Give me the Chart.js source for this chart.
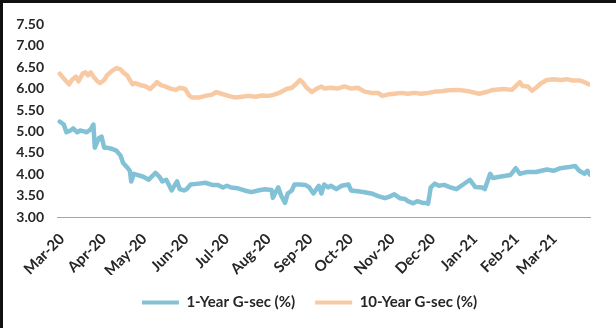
<!DOCTYPE html>
<html>
<head>
<meta charset="utf-8">
<script src="https://cdn.jsdelivr.net/npm/chart.js@4.4.1/dist/chart.umd.min.js"></script>
<style>
  html, body { margin: 0; padding: 0; background: #fff; }
  #frame {
    position: absolute; left: 0; top: 0;
    width: 616px; height: 328px;
    box-sizing: border-box;
    border-top: 3px solid #111;
    border-left: 3px solid #111;
    background: #fff;
  }
  #c { display: block; width: 613px; height: 325px; }
</style>
</head>
<body>
<div id="frame"><canvas id="c" width="613" height="325"></canvas></div>
<script>
// Month ticks on the date axis
const monthStarts = ['2020-03-01','2020-04-01','2020-05-01','2020-06-01','2020-07-01','2020-08-01',
  '2020-09-01','2020-10-01','2020-11-01','2020-12-01','2021-01-01','2021-02-01','2021-03-01'];
const monthLabels = ['Mar-20','Apr-20','May-20','Jun-20','Jul-20','Aug-20','Sep-20','Oct-20',
  'Nov-20','Dec-20','Jan-21','Feb-21','Mar-21'];

// 1-Year G-sec yield (%)
const oneYearDates = ['2020-03-03','2020-03-06','2020-03-08','2020-03-11','2020-03-13','2020-03-16',
  '2020-03-18','2020-03-21','2020-03-23','2020-03-26','2020-03-28','2020-03-29','2020-04-01','2020-04-03',
  '2020-04-05','2020-04-07','2020-04-11','2020-04-14','2020-04-17','2020-04-19','2020-04-22','2020-04-24',
  '2020-04-25','2020-04-27','2020-04-30','2020-05-04','2020-05-08','2020-05-10','2020-05-13','2020-05-16',
  '2020-05-18','2020-05-21','2020-05-25','2020-05-27','2020-05-29','2020-05-31','2020-06-03','2020-06-05',
  '2020-06-08','2020-06-14','2020-06-19','2020-06-24','2020-06-28','2020-07-02','2020-07-05','2020-07-08',
  '2020-07-13','2020-07-18','2020-07-23','2020-07-28','2020-08-02','2020-08-07','2020-08-08','2020-08-10',
  '2020-08-12','2020-08-14','2020-08-17','2020-08-19','2020-08-22','2020-08-24','2020-08-28','2020-09-01',
  '2020-09-04','2020-09-07','2020-09-11','2020-09-13','2020-09-15','2020-09-18','2020-09-20','2020-09-24',
  '2020-09-28','2020-10-03','2020-10-05','2020-10-10','2020-10-15','2020-10-20','2020-10-25','2020-10-30',
  '2020-11-02','2020-11-06','2020-11-10','2020-11-14','2020-11-16','2020-11-20','2020-11-23','2020-11-27',
  '2020-11-30','2020-12-01','2020-12-03','2020-12-06','2020-12-09','2020-12-13','2020-12-17','2020-12-22',
  '2020-12-27','2021-01-01','2021-01-05','2021-01-10','2021-01-12','2021-01-16','2021-01-18','2021-01-23',
  '2021-01-31','2021-02-04','2021-02-07','2021-02-12','2021-02-19','2021-02-27','2021-03-04','2021-03-09',
  '2021-03-14','2021-03-20','2021-03-23','2021-03-27','2021-03-29','2021-03-31'];
const oneYearYield = [5.23,5.16,4.98,5.02,5.07,4.98,
  5.02,5.00,4.98,5.05,5.16,4.62,4.84,4.88,
  4.62,4.62,4.59,4.55,4.44,4.26,4.16,4.08,
  3.83,4.01,3.98,3.94,3.87,3.94,4.03,3.94,
  3.83,3.87,3.62,3.73,3.83,3.65,3.62,3.65,
  3.76,3.78,3.80,3.75,3.75,3.69,3.73,3.69,
  3.67,3.62,3.58,3.62,3.65,3.63,3.45,3.58,
  3.69,3.51,3.33,3.55,3.62,3.76,3.76,3.75,
  3.69,3.55,3.73,3.55,3.76,3.69,3.73,3.65,
  3.73,3.76,3.62,3.60,3.58,3.55,3.49,3.44,
  3.47,3.53,3.44,3.42,3.37,3.32,3.37,3.33,
  3.33,3.31,3.69,3.78,3.73,3.75,3.70,3.65,
  3.76,3.87,3.70,3.69,3.65,4.01,3.91,3.94,
  3.98,4.14,4.01,4.05,4.05,4.11,4.08,4.14,
  4.16,4.19,4.08,4.01,4.08,3.99];

// 10-Year G-sec yield (%)
const tenYearDates = ['2020-03-03','2020-03-07','2020-03-10','2020-03-12','2020-03-15','2020-03-17',
  '2020-03-20','2020-03-22','2020-03-24','2020-03-26','2020-03-28','2020-03-31','2020-04-02','2020-04-05',
  '2020-04-07','2020-04-11','2020-04-14','2020-04-17','2020-04-19','2020-04-22','2020-04-24','2020-04-26',
  '2020-04-28','2020-05-02','2020-05-05','2020-05-09','2020-05-12','2020-05-14','2020-05-17','2020-05-20',
  '2020-05-24','2020-05-28','2020-05-31','2020-06-04','2020-06-07','2020-06-09','2020-06-14','2020-06-19',
  '2020-06-24','2020-06-27','2020-07-01','2020-07-06','2020-07-11','2020-07-16','2020-07-21','2020-07-26',
  '2020-07-31','2020-08-05','2020-08-09','2020-08-14','2020-08-18','2020-08-22','2020-08-26','2020-08-28',
  '2020-08-30','2020-09-02','2020-09-06','2020-09-09','2020-09-13','2020-09-15','2020-09-20','2020-09-25',
  '2020-09-30','2020-10-05','2020-10-10','2020-10-15','2020-10-20','2020-10-25','2020-10-28','2020-11-01',
  '2020-11-06','2020-11-11','2020-11-16','2020-11-21','2020-11-26','2020-12-01','2020-12-06','2020-12-11',
  '2020-12-16','2020-12-24','2021-01-01','2021-01-08','2021-01-13','2021-01-18','2021-01-26','2021-02-01',
  '2021-02-04','2021-02-07','2021-02-09','2021-02-13','2021-02-16','2021-02-19','2021-02-23','2021-02-27',
  '2021-03-04','2021-03-09','2021-03-14','2021-03-18','2021-03-23','2021-03-27','2021-03-30'];
const tenYearYield = [6.35,6.20,6.10,6.20,6.28,6.17,
  6.35,6.38,6.31,6.38,6.28,6.17,6.13,6.20,
  6.31,6.42,6.48,6.45,6.38,6.31,6.20,6.10,
  6.13,6.08,6.06,5.99,6.08,6.15,6.08,6.05,
  6.00,5.97,6.02,5.99,5.84,5.79,5.79,5.83,
  5.86,5.92,5.88,5.83,5.79,5.81,5.83,5.81,
  5.84,5.83,5.86,5.92,5.99,6.02,6.13,6.20,
  6.15,6.02,5.92,5.99,6.05,6.00,6.02,6.00,
  6.05,6.00,6.02,5.93,5.90,5.90,5.83,5.86,
  5.88,5.90,5.88,5.90,5.88,5.90,5.93,5.94,
  5.96,5.97,5.93,5.88,5.92,5.97,5.99,5.97,
  6.06,6.15,6.06,6.05,5.95,6.02,6.13,6.20,
  6.22,6.20,6.22,6.19,6.19,6.15,6.10];

// Y axis range
const yMin = 3.0, yMax = 7.5, yStep = 0.5;

const DAY = 86400000;
const origin = Date.parse('2020-03-01');
const dayOf = d => (Date.parse(d) - origin) / DAY;
const toPoints = (dates, vals) => dates.map((d, i) => ({ x: dayOf(d), y: vals[i] }));
const tickDays = monthStarts.map(dayOf);

const textColor = '#262626';
const axisFont = { family: 'Lato', size: 14, weight: 'bold' };
const labelFont = { family: 'Lato', size: 15, weight: 'bold' };

new Chart(document.getElementById('c'), {
  type: 'line',
  data: {
    datasets: [
      {
        label: '1-Year G-sec (%)',
        data: toPoints(oneYearDates, oneYearYield),
        borderColor: '#82c1d6',
        backgroundColor: '#82c1d6',
        borderWidth: 4.5,
        pointRadius: 0,
        tension: 0,
        borderJoinStyle: 'round',
        borderCapStyle: 'round'
      },
      {
        label: '10-Year G-sec (%)',
        data: toPoints(tenYearDates, tenYearYield),
        borderColor: '#f8caa4',
        backgroundColor: '#f8caa4',
        borderWidth: 4.5,
        pointRadius: 0,
        tension: 0,
        borderJoinStyle: 'round',
        borderCapStyle: 'round'
      }
    ]
  },
  options: {
    responsive: false,
    animation: false,
    layout: { padding: { top: 8, right: 0, left: 0, bottom: 8 } },
    scales: {
      x: {
        type: 'linear',
        min: 0,
        max: dayOf('2021-03-31'),
        afterBuildTicks: s => { s.ticks = tickDays.map(v => ({ value: v })); },
        afterFit: s => { s.height = 58; },
        grid: { display: false, drawTicks: false },
        border: { display: true, color: '#a6a6a6', width: 1 },
        ticks: {
          autoSkip: false,
          minRotation: 45,
          maxRotation: 45,
          padding: 13,
          labelOffset: 5,
          color: textColor,
          font: labelFont,
          callback: (v, i) => monthLabels[i]
        }
      },
      y: {
        min: yMin,
        max: yMax,
        afterFit: s => { s.width = 54; },
        grid: { display: false, drawTicks: false },
        border: { display: false },
        ticks: {
          stepSize: yStep,
          padding: 13,
          color: textColor,
          font: axisFont,
          callback: v => v.toFixed(2)
        }
      },
      // empty right-hand gutter
      gutter: {
        position: 'right',
        afterFit: s => { s.width = 26; },
        grid: { display: false, drawTicks: false },
        border: { display: false },
        ticks: { display: false }
      }
    },
    plugins: {
      legend: {
        position: 'bottom',
        labels: {
          boxWidth: 37,
          boxHeight: 4,
          padding: 20,
          color: textColor,
          font: labelFont,
          generateLabels: chart => Chart.defaults.plugins.legend.labels.generateLabels(chart)
            .map(it => Object.assign(it, { lineWidth: 0, fillStyle: it.strokeStyle }))
        }
      },
      tooltip: { enabled: false }
    }
  }
});
</script>
</body>
</html>
